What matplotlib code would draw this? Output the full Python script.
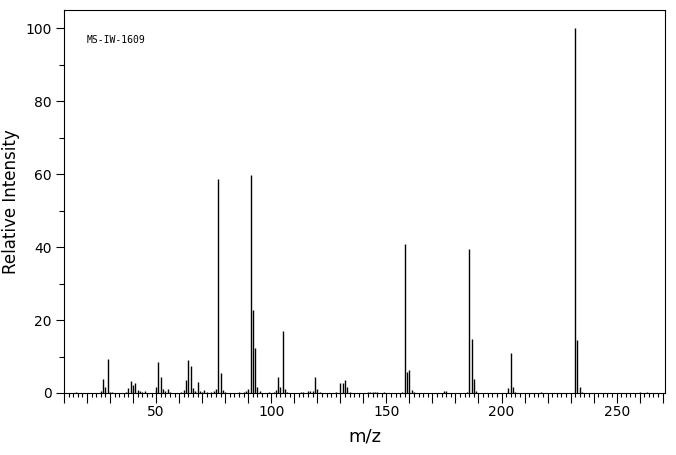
#!/usr/bin/env python3

import numpy as np
import matplotlib
matplotlib.use('Agg')
import matplotlib.pyplot as plt
from matplotlib.ticker import MultipleLocator, FuncFormatter

# peak positions (m/z) and relative intensities
mz = [15, 26, 27, 28, 29, 30, 31, 37, 38, 39, 40, 41, 42, 43, 44, 45,
      50, 51, 52, 53, 54, 55, 56, 61, 62, 63, 64, 65, 66, 67, 68, 69, 70, 71,
      72, 74, 75, 76, 77, 78, 79, 80, 86, 88, 89, 90, 91, 92, 93, 94, 95,
      99, 101, 102, 103, 104, 105, 106, 107, 113, 114, 116, 117, 118, 119, 120, 121,
      128, 130, 131, 132, 133, 134, 142, 143, 144, 145, 146, 149,
      157, 158, 159, 160, 161, 162, 175, 176, 185, 186, 187, 188, 189,
      203, 204, 205, 206, 217, 232, 233, 234, 235, 260, 263]
intensity = [0.4, 0.6, 3.9, 1.7, 9.4, 0.4, 0.4, 0.4, 1.4, 3.4, 2.1, 2.8, 0.9, 0.6, 0.4, 0.6,
             1.6, 8.4, 4.3, 1.2, 0.6, 1.2, 0.4, 0.4, 0.7, 3.6, 9.1, 7.5, 1.4, 0.5, 3.0, 0.5, 0.3, 0.9,
             0.4, 0.4, 0.6, 1.2, 58.8, 5.6, 0.9, 0.4, 0.4, 0.4, 0.6, 1.2, 59.8, 22.7, 12.3, 1.6, 0.6,
             0.4, 0.4, 0.9, 4.4, 1.6, 16.9, 1.2, 0.4, 0.4, 0.4, 0.6, 0.6, 0.6, 4.5, 1.2, 0.4,
             0.4, 2.8, 2.8, 3.7, 1.6, 0.4, 0.4, 0.4, 0.4, 0.4, 0.4, 0.4,
             0.4, 40.8, 5.7, 6.2, 0.9, 0.4, 0.6, 0.6, 0.4, 39.4, 14.8, 3.9, 0.6,
             1.5, 11.1, 1.7, 0.4, 0.4, 100.0, 14.5, 1.6, 0.4, 0.4, 0.4]

fig = plt.figure(figsize=(6.76, 4.55), dpi=100)
ax = fig.add_axes([64/676, 1 - 393/455, 601/676, 383/455])

ax.vlines(mz, 0, intensity, color='black', linewidth=1.0)

ax.set_xlim(10, 271)
ax.set_ylim(0, 105)

# x: long ticks every 50 (labelled), medium every 10, short every 2
ax.xaxis.set_major_locator(MultipleLocator(10))
ax.xaxis.set_minor_locator(MultipleLocator(2))
ax.xaxis.set_major_formatter(FuncFormatter(lambda v, p: f'{int(round(v))}' if round(v) % 50 == 0 else ''))
ax.yaxis.set_major_locator(MultipleLocator(20))
ax.yaxis.set_minor_locator(MultipleLocator(10))

ax.tick_params(axis='x', which='major', length=4.5, width=0.8, labelsize=10, pad=4)
ax.tick_params(axis='x', which='minor', length=3, width=0.8)
ax.tick_params(axis='y', which='major', length=6, width=0.8, labelsize=10, pad=3)
ax.tick_params(axis='y', which='minor', length=3.5, width=0.8)

for t in ax.xaxis.get_major_ticks():
	if round(t.get_loc()) % 50 == 0:
		t.tick1line.set_markersize(7)

for s in ax.spines.values():
	s.set_linewidth(0.8)

ax.set_xlabel('m/z', fontsize=13, labelpad=6)
ax.set_ylabel('Relative Intensity', fontsize=12, va='center')
ax.yaxis.set_label_coords(-0.088, 0.5)

ax.text(0.037, 0.922, 'MS-IW-1609', transform=ax.transAxes, fontsize=7,
        family='DejaVu Sans Mono', va='center', ha='left')

fig.savefig('out.png', dpi=100)
print('saved out.png')
